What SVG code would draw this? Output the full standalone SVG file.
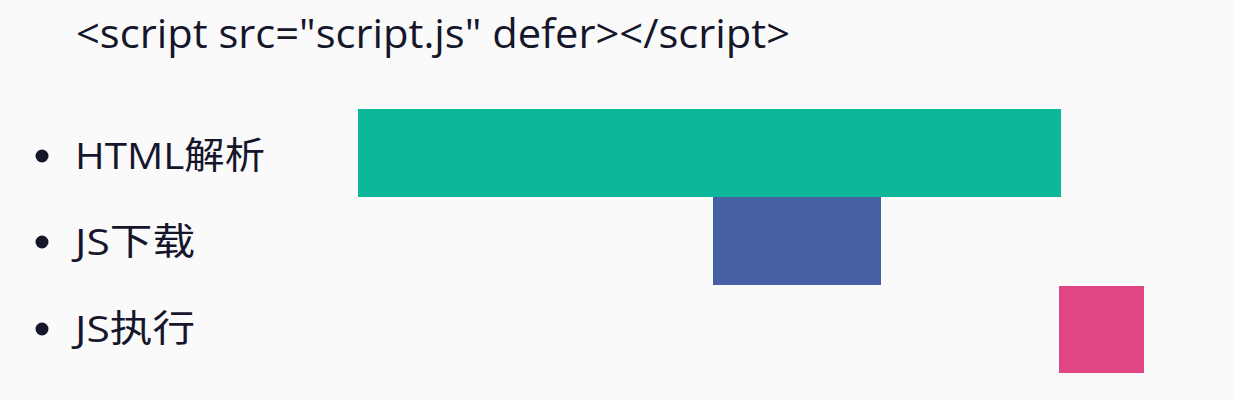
<svg xmlns="http://www.w3.org/2000/svg" width="1234" height="400" viewBox="0 0 1234 400">
<style>
.t{font-family:"Open Sans","Noto Sans CJK SC",sans-serif;fill:#15162a}
.lbl{font-size:37px}
.dot{fill:#15162a}
</style>
<rect width="1234" height="400" fill="#fafafa"/>
<text class="t" x="76" y="48" font-size="40" textLength="714" lengthAdjust="spacingAndGlyphs">&lt;script src="script.js" defer&gt;&lt;/script&gt;</text>
<g id="html">
<circle class="dot" cx="42" cy="156" r="6.5"/>
<text class="t lbl" x="75" y="169" textLength="190" lengthAdjust="spacingAndGlyphs">HTML解析</text>
<rect x="358" y="109" width="703" height="88" fill="#0cb899"/>
</g>
<g id="download">
<circle class="dot" cx="42" cy="242" r="6.5"/>
<text class="t lbl" x="75" y="255" textLength="120" lengthAdjust="spacingAndGlyphs">JS下载</text>
<rect x="713" y="197" width="168" height="88" fill="#4561a4"/>
</g>
<g id="exec">
<circle class="dot" cx="42" cy="329" r="6.5"/>
<text class="t lbl" x="75" y="342" textLength="120" lengthAdjust="spacingAndGlyphs">JS执行</text>
<rect x="1059" y="286" width="85" height="87" fill="#e04684"/>
</g>
<g id="connectors"/>
</svg>
